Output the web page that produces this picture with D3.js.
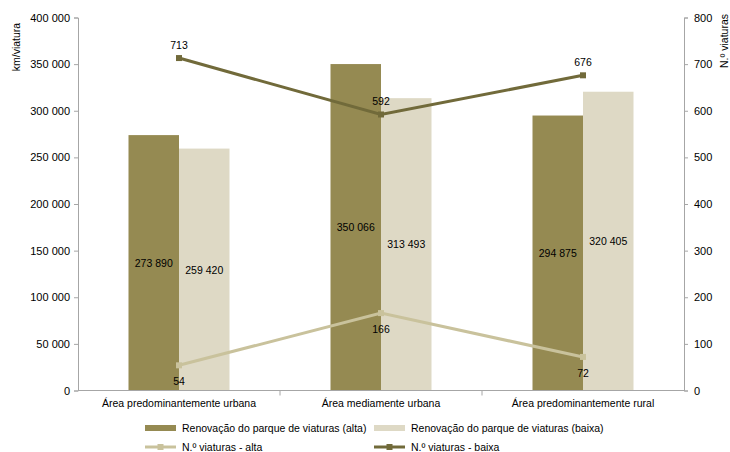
<!DOCTYPE html>
<html><head><meta charset="utf-8">
<script src="https://cdn.jsdelivr.net/npm/d3@7"></script>
<style>body{margin:0;background:#fff}svg{display:block;font-family:"Liberation Sans",Arial,sans-serif}</style>
</head><body><svg id="c" width="730" height="452"></svg>
<script>
const categories = ["Área predominantemente urbana","Área mediamente urbana","Área predominantemente rural"];
const barAlta = [273890, 350066, 294875];
const barBaixa = [259420, 313493, 320405];
const lineAlta = [54, 166, 72];
const lineBaixa = [713, 592, 676];
const leftTicks = [0,50000,100000,150000,200000,250000,300000,350000,400000];
const rightTicks = [0,100,200,300,400,500,600,700,800];
const seriesNames = ["Renovação do parque de viaturas (alta)","Renovação do parque de viaturas (baixa)","N.º viaturas - alta","N.º viaturas - baixa"];

const cAlta="#958a52", cBaixa="#ded9c5", cLA="#c9c29c", cLB="#716a3a";
const svg=d3.select("#c");
const L=78,R=684,T=17.5,B=390.5;
const fmt=v=>d3.format(",")(v).replace(/,/g," ");
const x=d3.scaleBand().domain(categories).range([L,R]);
const yL=d3.scaleLinear().domain([0,400000]).range([B,T]);
const yR=d3.scaleLinear().domain([0,800]).range([B,T]);
const bw=x.bandwidth()/4;

const g=svg.append("g");
categories.forEach((c,i)=>{
  const cx=x(c)+x.bandwidth()/2;
  g.append("rect").attr("x",cx-bw).attr("width",bw).attr("y",yL(barAlta[i])).attr("height",B-yL(barAlta[i])).attr("fill",cAlta);
  g.append("rect").attr("x",cx).attr("width",bw).attr("y",yL(barBaixa[i])).attr("height",B-yL(barBaixa[i])).attr("fill",cBaixa);
});

// axes
const axL=svg.append("g").attr("transform",`translate(${L},0)`).call(d3.axisLeft(yL).tickValues(leftTicks).tickFormat(fmt).tickSize(4).tickPadding(4));
const axR=svg.append("g").attr("transform",`translate(${R},0)`).call(d3.axisRight(yR).tickValues(rightTicks).tickSize(4).tickPadding(6));
const axB=svg.append("g").attr("transform",`translate(0,${B})`).call(d3.axisBottom(x).tickSize(0).tickPadding(9));
[axL,axR,axB].forEach(a=>{a.selectAll("path,line").attr("stroke","#a6a6a6");a.selectAll("text").attr("fill","#000").style("font-size","11px").style("font-family","Liberation Sans, Arial, sans-serif");});
axB.selectAll("text").style("font-size","10.5px");
axB.select("path").attr("d",`M${L},0H${R}`);
// category separator ticks
x.domain().slice(1).forEach(c=>{svg.append("line").attr("x1",x(c)).attr("x2",x(c)).attr("y1",B).attr("y2",B+5).attr("stroke","#a6a6a6");});

// lines
const cxs=categories.map(c=>x(c)+x.bandwidth()/2);
const lineGen=d3.line();
svg.append("path").attr("d",lineGen(lineAlta.map((v,i)=>[cxs[i],yR(v)]))).attr("fill","none").attr("stroke",cLA).attr("stroke-width",3);
svg.append("path").attr("d",lineGen(lineBaixa.map((v,i)=>[cxs[i],yR(v)]))).attr("fill","none").attr("stroke",cLB).attr("stroke-width",3);
lineAlta.forEach((v,i)=>svg.append("rect").attr("x",cxs[i]-3).attr("y",yR(v)-3).attr("width",6).attr("height",6).attr("fill",cLA));
lineBaixa.forEach((v,i)=>svg.append("rect").attr("x",cxs[i]-3).attr("y",yR(v)-3).attr("width",6).attr("height",6).attr("fill",cLB));

// labels
const lab=(t,xx,yy)=>svg.append("text").attr("x",xx).attr("y",yy).attr("text-anchor","middle").style("font-size","10.5px").attr("fill","#000").text(t);
categories.forEach((c,i)=>{
  lab(fmt(barAlta[i]),cxs[i]-bw/2,(yL(barAlta[i])+B)/2+4);
  lab(fmt(barBaixa[i]),cxs[i]+bw/2,(yL(barBaixa[i])+B)/2+4);
  lab(lineBaixa[i],cxs[i],yR(lineBaixa[i])-9);
  lab(lineAlta[i],cxs[i],yR(lineAlta[i])+20);
});

// axis titles
svg.append("text").attr("transform","translate(20,47) rotate(-90)").attr("text-anchor","middle").style("font-size","10.5px").text("km/viatura");
svg.append("text").attr("transform","translate(728,41) rotate(-90)").attr("text-anchor","middle").style("font-size","10.5px").text("N.º viaturas");

// legend
const lg=svg.append("g").style("font-size","10.5px");
const items=[
 {x:145,y:428,t:seriesNames[0],type:"bar",c:cAlta},
 {x:374,y:428,t:seriesNames[1],type:"bar",c:cBaixa},
 {x:145,y:447,t:seriesNames[2],type:"line",c:cLA},
 {x:374,y:447,t:seriesNames[3],type:"line",c:cLB}];
items.forEach(d=>{
  if(d.type==="bar"){lg.append("rect").attr("x",d.x).attr("y",d.y-3).attr("width",31).attr("height",6).attr("fill",d.c);}
  else{lg.append("line").attr("x1",d.x).attr("x2",d.x+31).attr("y1",d.y).attr("y2",d.y).attr("stroke",d.c).attr("stroke-width",3);
       lg.append("rect").attr("x",d.x+12.5).attr("y",d.y-3).attr("width",6).attr("height",6).attr("fill",d.c);}
  lg.append("text").attr("x",d.x+37).attr("y",d.y+4).text(d.t);
});
</script></body></html>
